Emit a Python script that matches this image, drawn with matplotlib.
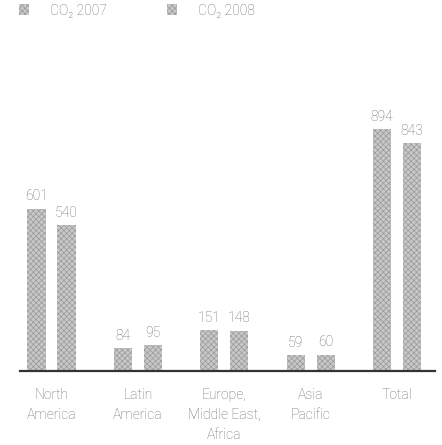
import matplotlib
matplotlib.use("Agg")
import matplotlib.pyplot as plt
import numpy as np

# CO2 emissions by region, 2007 vs 2008
regions = ["North\nAmerica", "Latin\nAmerica", "Europe,\nMiddle East,\nAfrica",
           "Asia\nPacific", "Total"]
co2_2007 = [601, 84, 151, 59, 894]
co2_2008 = [540, 95, 148, 60, 843]
series_names = ["CO₂ 2007", "CO₂ 2008"]

plt.rcParams["font.family"] = ["Liberation Sans Narrow", "Roboto", "DejaVu Sans"]
plt.rcParams["font.weight"] = "light"
plt.rcParams["hatch.linewidth"] = 0.5
txt_col = "#6e6e6e"

fig = plt.figure(figsize=(4.42, 4.45), dpi=100)
ax = fig.add_axes([20 / 442, 74 / 445, 415 / 442, 275 / 445])

x = np.arange(len(regions))
w = 0.21
off = 0.174
bar_kw = dict(width=w, color="#c8c8c8", edgecolor="#999999", hatch="xxxxxx", linewidth=0)
b1 = ax.bar(x - off, co2_2007, **bar_kw)
b2 = ax.bar(x + off, co2_2008, **bar_kw)

for bars, vals in ((b1, co2_2007), (b2, co2_2008)):
    for r, v in zip(bars, vals):
        ax.annotate(str(v), (r.get_x() + r.get_width() / 2, v), xytext=(0, 4),
                    textcoords="offset points", ha="center", va="bottom",
                    fontsize=10, color=txt_col)

ax.set_xlim(-0.365, 4.44)
ax.set_ylim(0, 1018)
for s in ["top", "right", "left"]:
    ax.spines[s].set_visible(False)
ax.spines["bottom"].set_color("#333333")
ax.spines["bottom"].set_linewidth(1.6)
ax.set_yticks([])
ax.set_xticks(x)
ax.set_xticklabels(regions, fontsize=10, color=txt_col, linespacing=1.55, va="top")
ax.tick_params(axis="x", length=0, pad=12)

fig.legend([b1, b2], series_names, loc="upper left", bbox_to_anchor=(0.014, 1.02),
           ncol=2, frameon=False, fontsize=10, labelcolor=txt_col,
           handlelength=0.75, handleheight=0.8, handletextpad=1.5,
           columnspacing=4.3)

fig.savefig("out.png", dpi=100)
